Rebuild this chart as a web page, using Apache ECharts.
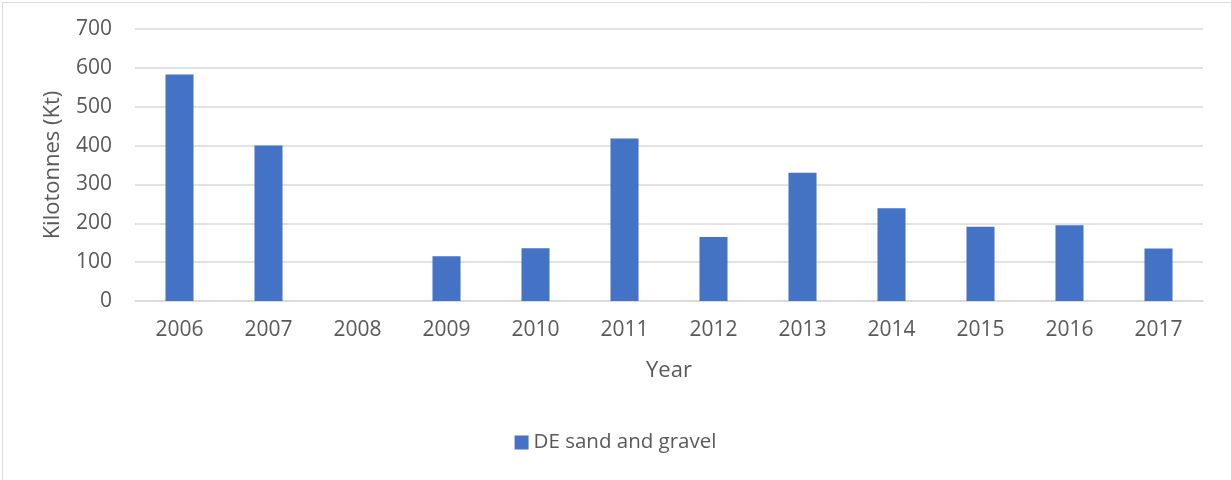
<!DOCTYPE html>
<html>
<head>
<meta charset="utf-8">
<script src="https://cdn.jsdelivr.net/npm/echarts@6/dist/echarts.min.js"></script>
<style>html,body{margin:0;padding:0;background:#fff}#c{width:1231px;height:480px}</style>
</head>
<body>
<div id="c"></div>
<script>
const categories = ['2006','2007','2008','2009','2010','2011','2012','2013','2014','2015','2016','2017'];
const sandGravel = [583, 400, null, 115, 136, 418, 165, 330, 239, 191, 195, 135];
const seriesName = 'DE sand and gravel';
const xTitle = 'Year';
const yTitle = 'Kilotonnes (Kt)';

const FONT = 'Open Sans';
const TXT = '#595959';
const chart = echarts.init(document.getElementById('c'), null, {renderer: 'canvas'});
chart.setOption({
  animation: false,
  backgroundColor: '#fff',
  textStyle: {fontFamily: FONT},
  graphic: [{
    type: 'rect', left: 0, top: 0, silent: true,
    shape: {x: 0.5, y: 0.5, width: 1230, height: 479},
    style: {fill: 'none', stroke: '#d9d9d9', lineWidth: 1}
  }],
  grid: {left: 135, right: 28, top: 29, bottom: 179, containLabel: false},
  legend: {
    data: [seriesName],
    left: 'center', top: 427,
    itemWidth: 14, itemHeight: 14, itemGap: 10,
    icon: 'rect',
    textStyle: {color: TXT, fontSize: 20.5, fontFamily: FONT}
  },
  xAxis: {
    type: 'category', data: categories,
    name: xTitle, nameLocation: 'middle', nameGap: 59,
    nameTextStyle: {color: TXT, fontSize: 22, fontFamily: FONT},
    axisLine: {lineStyle: {color: '#d9d9d9', width: 1.5}},
    axisTick: {show: false},
    axisLabel: {color: TXT, fontSize: 21, margin: 19, fontFamily: FONT}
  },
  yAxis: {
    type: 'value', min: 0, max: 700, interval: 100,
    name: yTitle, nameLocation: 'middle', nameGap: 71, nameRotate: 90,
    nameTextStyle: {color: TXT, fontSize: 22, fontFamily: FONT},
    axisLine: {show: false}, axisTick: {show: false},
    axisLabel: {color: TXT, fontSize: 21, margin: 23, fontFamily: FONT},
    splitLine: {lineStyle: {color: '#d9d9d9', width: 1.5}}
  },
  series: [{
    name: seriesName, type: 'bar', data: sandGravel,
    barWidth: '31.5%',
    itemStyle: {color: '#4472C4'}
  }]
});
</script>
</body>
</html>
